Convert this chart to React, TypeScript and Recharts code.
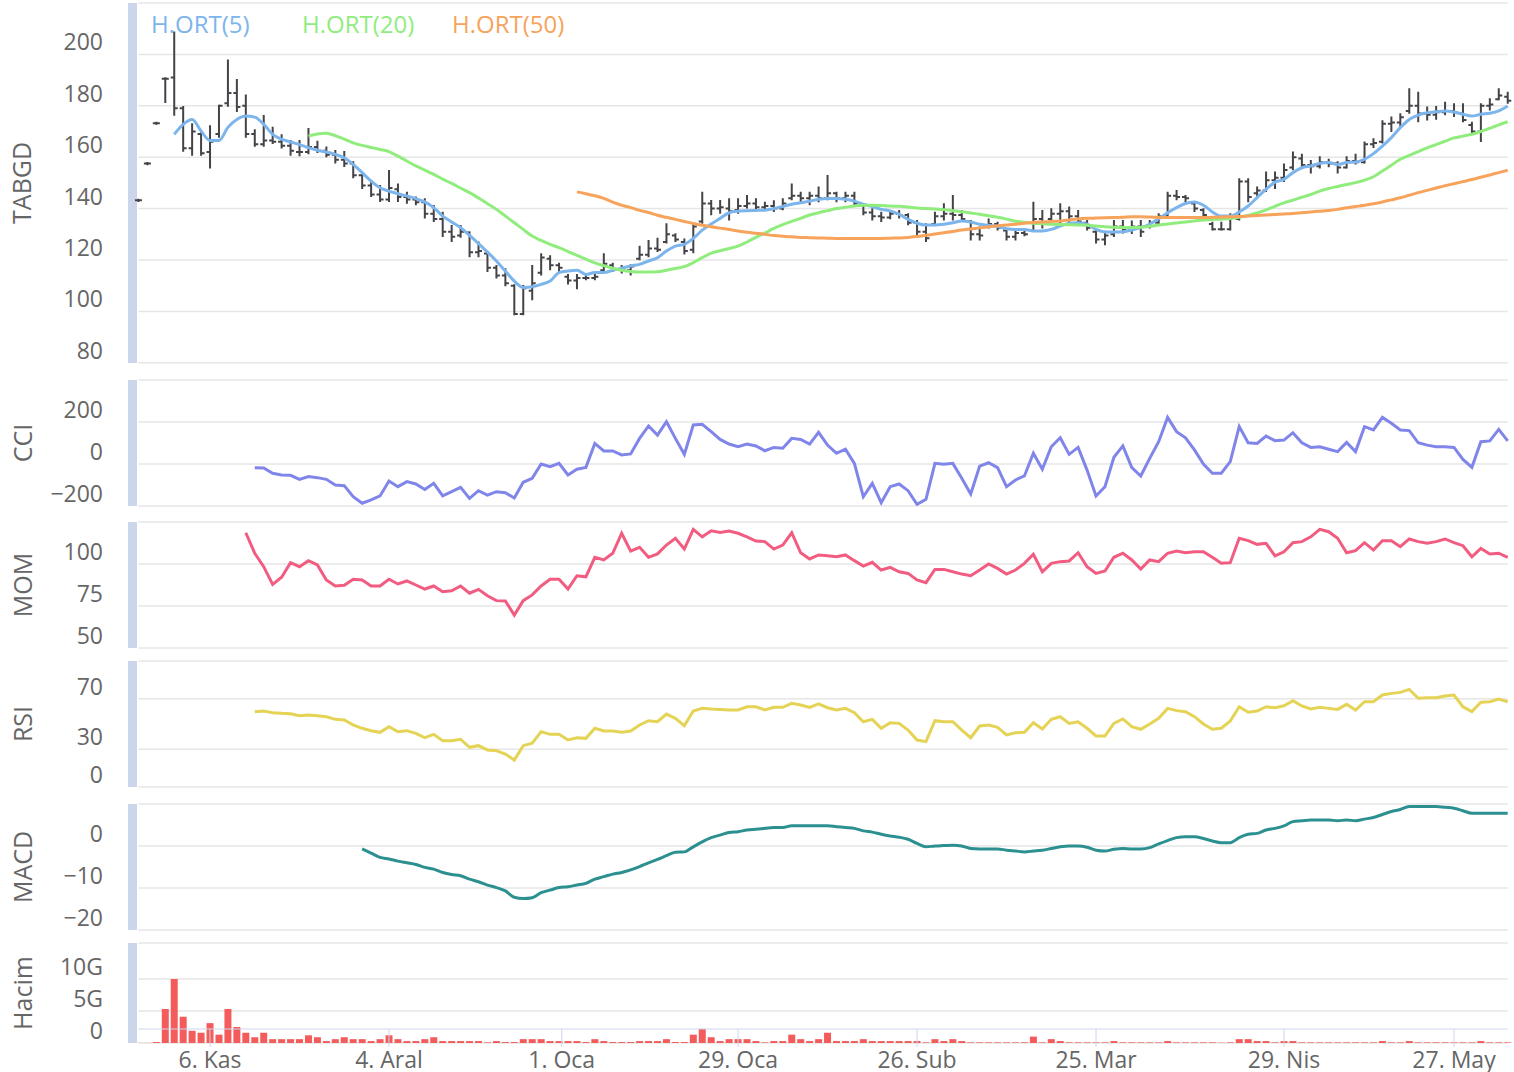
import { ComposedChart, Line, Bar, XAxis, YAxis, CartesianGrid } from 'recharts'

// trading-day index -> values, Oct 25 2023 .. Jun 4 2024
const open = [
  143.2, 157.5, 173.2, 190.5, 191, 179, 163.5, 169, 162, 169,
  181, 185, 180, 169, 165, 166.5, 166, 164.5, 162, 162,
  164, 162.5, 161, 159, 157.5, 153, 149, 145.5, 143.5, 147.5,
  144.5, 143.5, 142.5, 138, 136, 131, 129.5, 130.7, 123, 122.5,
  117, 114, 110, 99, 108, 115, 120.5, 118, 113.5, 112,
  113, 113, 116, 118, 116.5, 116, 120.5, 122, 124.5, 127,
  129.5, 127, 124, 135, 142, 140, 140, 139.5, 141, 142,
  140.5, 141, 140, 144, 145, 144, 145, 144, 146, 144,
  145, 141.5, 138.5, 137, 136.5, 138, 137.5, 134.5, 131, 134,
  137, 138, 137.5, 135, 130, 133, 134, 131.5, 129, 130.5,
  131.5, 136, 136, 138, 139, 137, 134.5, 131, 128, 130,
  133, 132, 133, 133, 134.5, 137.5, 145, 144.5, 142, 139.5,
  134, 132, 132, 136, 150.5, 146, 147, 151, 152, 156,
  159.5, 157, 156.5, 158, 157.5, 156, 158.5, 158, 165, 166,
  173, 173.5, 178, 180, 177, 176.5, 177.5, 178, 177, 172.5,
  170, 180, 182.5, 183.5,
]
const high = [
  143.4, 157.7, 173.4, 190.7, 208.5, 179.5, 172.8, 170, 172, 180,
  197.6, 190, 184, 170.5, 176, 171.5, 168.5, 166.3, 166.3, 171,
  166, 163.8, 162.4, 162, 158, 153.3, 150.7, 148.8, 154.6, 149.4,
  146.2, 144.3, 143.6, 141, 138.4, 133.2, 133.2, 130.7, 126.8, 122.9,
  117.7, 116.4, 110.2, 109.9, 117.7, 122.2, 121.5, 118.5, 114.2, 114.2,
  114.4, 114.4, 122.2, 118.5, 117.7, 118, 125.2, 127.4, 128.3, 133.9,
  130, 128, 133.9, 146.2, 143, 143, 143.6, 143.6, 144.9, 143.6,
  142.3, 142.9, 143.6, 149.4, 146.2, 146.2, 148.2, 152.7, 146.2, 146.2,
  146.2, 141.7, 139.7, 138.4, 139.1, 139.1, 137.8, 135.2, 133.9, 138.4,
  141.7, 144.9, 139.1, 135.2, 132.6, 135.8, 134.5, 131.9, 131.9, 131.3,
  142.3, 139.1, 139.7, 141.7, 140.4, 139.1, 135.2, 131.9, 131, 135.2,
  135.2, 135, 135.2, 135.2, 137.8, 146.2, 146.8, 144.9, 142.3, 139.7,
  134.5, 134.5, 137.8, 151.4, 151.4, 148.2, 154, 154, 157.2, 161.8,
  161, 158.5, 160, 159, 158, 160, 161, 165.7, 167, 174,
  175.4, 176.7, 186.4, 185.1, 179.3, 179.5, 181.2, 180.6, 180.6, 173.4,
  180.6, 182.5, 186.4, 185.1,
]
const low = [
  143.0, 157.3, 173.0, 181.5, 176.5, 162.5, 161, 161, 156, 168,
  180, 178, 168, 164.5, 164.5, 165.5, 163.8, 161, 160.8, 161.5,
  162, 160.4, 157.9, 156.6, 152.2, 148, 144.9, 143, 143, 143,
  142.3, 141.7, 136.5, 135.2, 129.3, 127.4, 129, 121.5, 121.5, 115.7,
  113.2, 110.2, 98.9, 98.9, 104.7, 114.4, 116.4, 115.7, 110.9, 109,
  112.5, 112.5, 115.7, 115.7, 115.1, 114.4, 120.3, 121.5, 123.5, 126.8,
  127.4, 122.5, 123, 134.5, 137.8, 138.4, 135.8, 138.4, 140.4, 139.4,
  139.7, 139.1, 139.7, 143.6, 142.3, 141.7, 142.9, 143.6, 142.9, 142.9,
  141.7, 137.8, 135.8, 135.2, 136.2, 136.5, 133.9, 130, 127.4, 133.9,
  135.8, 135.8, 135.2, 128, 128, 132.6, 131.9, 128, 128, 129.6,
  131.3, 132.6, 135.8, 134.5, 135.2, 134.5, 131.9, 126.8, 126.1, 129.3,
  130.7, 130.5, 129.3, 132.6, 133.9, 137.1, 143.6, 142.9, 139.1, 137.1,
  131.9, 131.9, 131.9, 135.8, 142.9, 144.9, 146.8, 148, 150.7, 155.3,
  156, 154, 156, 156.5, 154, 156, 157.5, 157.9, 164, 165.7,
  170.2, 172.1, 177.3, 174, 174.7, 175, 176.7, 176, 174, 169.5,
  166.3, 178.6, 182.5, 181.2,
]
const close = [
  143.2, 157.5, 173.2, 190.5, 179, 163.5, 170, 161.5, 166, 180,
  185, 179.5, 169, 165, 166.5, 166, 164.5, 162.5, 162, 164,
  162.5, 161, 159, 157.5, 153, 149, 145.5, 143.5, 148, 144.5,
  143.5, 142.5, 138, 136, 131, 129, 131, 123, 123.5, 117,
  114, 111, 99, 109, 111, 121, 118, 117, 112, 113,
  113, 113.5, 118.5, 116.5, 116, 117.5, 122, 124.5, 124, 130,
  128, 123.5, 133, 142, 140, 140.5, 139, 141, 142, 140.5,
  141, 140, 142, 145, 144, 145, 144, 146, 144, 145,
  142, 138.5, 137, 136.5, 138, 137.5, 134.5, 131, 128.5, 137,
  138, 137.5, 136, 130, 129.5, 134, 132.5, 129, 130.5, 130,
  136, 134, 138, 139, 137, 135, 132.5, 128, 129.5, 133,
  132, 133, 131, 134.5, 137, 145, 144.5, 144, 140, 137.5,
  132, 132, 137, 150.5, 144.5, 147, 151, 152, 155, 160,
  157, 156.5, 158, 157.5, 156, 158.5, 158, 165, 165.5, 173,
  173.5, 175.5, 180, 177, 176.5, 177.5, 178, 177.5, 174.5, 170,
  180, 180.5, 184, 182,
]
const ma5 = [
  null, null, null, null, 168.9, 172.8, 174.7, 170.2, 166.5, 166.5,
  171.6, 174.7, 176, 175.6, 172.8, 168.9, 167, 165.9, 164.9, 163.7,
  162.7, 162, 161.1, 159.8, 157.2, 154, 150.7, 148.1, 146.8, 145.8,
  144.9, 143.9, 142.6, 140.4, 137.1, 134.8, 132.6, 129.6, 126.4, 123.1,
  119.6, 115.7, 111.8, 109.3, 109.6, 110.5, 111.8, 115.1, 115.7, 116,
  114.4, 115.1, 115.1, 116, 116.8, 117.7, 118.3, 119.6, 120.9, 123.5,
  125.4, 126.1, 128.4, 131.6, 134, 136.2, 138.4, 139, 139.2, 139.3,
  139.4, 140, 140.8, 141.7, 142.3, 142.9, 143.6, 143.9, 143.9, 143.6,
  142.9, 141.7, 140.8, 139.7, 139.1, 137.8, 135.8, 134.3, 133.6, 133.6,
  133.9, 134.5, 135.2, 134.8, 133.9, 133.5, 133, 132.2, 131.9, 131.9,
  131.3, 131.3, 131.9, 133.2, 134.3, 134.5, 133.9, 131.9, 130.9, 130.9,
  131, 131.7, 132.6, 133.9, 136.1, 138.4, 140.4, 142, 142.6, 141.3,
  138.7, 137.1, 137.1, 138.7, 141, 144.3, 147.5, 150.3, 151.4, 154,
  155.9, 156.6, 157.6, 157.9, 157.2, 157.9, 158.1, 159.2, 161.4, 164.3,
  167.6, 171.5, 174.7, 176.4, 177.3, 177.7, 178, 177.6, 176.7, 176,
  176.7, 177.1, 178, 179.9,
]
const ma20 = [
  null, null, null, null, null, null, null, null, null, null,
  null, null, null, null, null, null, null, null, null, 168.2,
  169.0, 169.3, 168.4, 167.0, 165.6, 164.6, 163.8, 163.0, 162.2, 160.4,
  158.5, 156.6, 155.0, 153.3, 151.5, 149.8, 148.0, 146.2, 144.1, 141.9,
  139.7, 137.1, 134.5, 131.9, 129.3, 127.6, 126.1, 124.8, 123.3, 121.8,
  120.3, 118.9, 117.8, 116.8, 116.0, 115.5, 115.3, 115.3, 115.4, 116.0,
  116.7, 117.4, 119.0, 120.9, 122.7, 123.6, 124.5, 125.4, 127.0, 128.8,
  130.5, 132.3, 133.8, 135.0, 136.2, 137.5, 138.4, 139.2, 140.0, 140.5,
  141.0, 141.3, 141.3, 141.2, 141.0, 140.9, 140.6, 140.2, 140.0, 139.8,
  139.6, 139.2, 138.8, 138.3, 137.8, 137.2, 136.6, 135.9, 135.1, 134.7,
  134.3, 134.1, 133.9, 133.8, 133.7, 133.6, 133.5, 133.2, 132.9, 132.7,
  132.6, 132.6, 132.7, 133.1, 133.6, 134.0, 134.4, 134.8, 135.2, 135.6,
  135.8, 135.9, 136.1, 136.6, 137.4, 138.3, 139.5, 140.9, 142.2, 143.3,
  144.4, 145.5, 146.8, 147.8, 148.6, 149.4, 150.1, 151.1, 152.4, 154.6,
  156.9, 159.2, 160.7, 162.2, 163.6, 164.9, 166.2, 167.5, 168.2, 168.9,
  170.0, 171.3, 172.6, 173.8,
]
const ma50 = [
  null, null, null, null, null, null, null, null, null, null,
  null, null, null, null, null, null, null, null, null, null,
  null, null, null, null, null, null, null, null, null, null,
  null, null, null, null, null, null, null, null, null, null,
  null, null, null, null, null, null, null, null, null, 146.5,
  145.8, 145.0, 144.0, 142.5, 141.3, 140.4, 139.3, 138.5, 137.4, 136.6,
  135.8, 135.0, 134.2, 133.5, 132.9, 132.4, 131.9, 131.3, 130.8, 130.4,
  130.0, 129.5, 129.2, 129.0, 128.8, 128.7, 128.6, 128.5, 128.4, 128.4,
  128.4, 128.4, 128.4, 128.4, 128.5, 128.6, 128.8, 129.1, 129.6, 130.1,
  130.6, 131.1, 131.7, 132.1, 132.5, 132.9, 133.3, 133.6, 133.9, 134.3,
  134.6, 134.8, 135.0, 135.2, 135.6, 136.0, 136.2, 136.3, 136.4, 136.5,
  136.6, 136.8, 136.8, 136.7, 136.6, 136.5, 136.5, 136.5, 136.5, 136.5,
  136.6, 136.7, 136.8, 136.9, 137.1, 137.3, 137.5, 137.7, 137.9, 138.1,
  138.4, 138.7, 139.0, 139.3, 139.7, 140.3, 140.8, 141.3, 141.9, 142.6,
  143.4, 144.2, 145.2, 146.2, 147.1, 148.0, 148.9, 149.7, 150.5, 151.3,
  152.2, 153.1, 154.0, 154.9,
]
const cci = [
  null, null, null, null, null, null, null, null, null, null,
  null, null, null, -18, -19, -44, -52, -54, -73, -60,
  -65, -73, -100, -103, -156, -187, -171, -152, -81, -108,
  -84, -95, -121, -92, -152, -132, -111, -164, -127, -148,
  -132, -137, -162, -87, -68, 0, -13, 3, -52, -25,
  -16, 98, 62, 62, 43, 48, 122, 181, 138, 202,
  122, 46, 186, 189, 154, 117, 95, 82, 95, 86,
  63, 79, 75, 122, 117, 95, 151, 90, 51, 71,
  3, -156, -92, -184, -108, -95, -127, -192, -168, 3,
  -1, 3, -68, -143, -10, 6, -17, -108, -76, -57,
  51, -25, 82, 125, 46, 79, -29, -152, -108, 32,
  86, -17, -57, 27, 106, 222, 154, 125, 67, 0,
  -44, -44, 11, 178, 101, 98, 133, 111, 114, 149,
  101, 79, 82, 70, 59, 103, 59, 178, 162, 222,
  194, 162, 159, 101, 90, 82, 82, 79, 22, -16,
  106, 110, 165, 110,
]
const mom = [
  null, null, null, null, null, null, null, null, null, null,
  null, null, 118.6, 106.4, 98.4, 87.9, 92.1, 100.8, 98.4, 102,
  99.4, 90.5, 86.9, 87.3, 90.9, 90.5, 86.9, 86.9, 90.9, 88.1,
  89.9, 87.5, 85.1, 86.9, 83.5, 84.1, 86.9, 82.6, 84.9, 81.1,
  78.2, 78, 69.6, 78.2, 81.6, 86.9, 90.9, 90.9, 85.1, 93,
  92.4, 104, 102.4, 106.4, 118.3, 107.7, 109.9, 104, 106, 111.3,
  115.3, 108.9, 120.6, 116.2, 119.8, 118.8, 119.6, 118.3, 116.2, 113.7,
  113.3, 108.9, 111.3, 118.6, 106.7, 103, 105.4, 104.9, 104.3, 105.4,
  102, 98.8, 101, 96.4, 98, 95.4, 94.4, 90.5, 88.9, 96.8,
  96.8, 95.4, 94, 93, 96.4, 100, 97.4, 94, 96.4, 100.4,
  105.8, 95.4, 100.4, 101.4, 101.8, 106.7, 98.4, 94.4, 95.8, 104,
  106.4, 102.4, 97, 102.4, 101.4, 106.4, 107.7, 106.7, 107.3, 107.3,
  104, 100.4, 100.8, 115.3, 113.9, 111.7, 112.3, 104.8, 107.3, 112.7,
  113.3, 116.2, 120.6, 119.2, 115.3, 106.7, 107.9, 112.7, 108.3, 113.9,
  113.9, 110.3, 114.9, 113.3, 112.3, 113.3, 114.9, 112.7, 110.9, 104.3,
  109.3, 106, 106.4, 104,
]
const rsi = [
  null, null, null, null, null, null, null, null, null, null,
  null, null, null, 59.8, 60.3, 59, 58.5, 58.2, 56.6, 57.1,
  56.6, 55.8, 53.7, 53.2, 49.2, 46.6, 44.7, 43.4, 47.9, 43.9,
  44.7, 42.6, 39.1, 41.8, 36.7, 36.7, 37.9, 31.5, 32.8, 29.4,
  28.8, 26.2, 21.4, 32.8, 34.7, 43.9, 41.8, 41.8, 37.3, 39.1,
  38.6, 46.6, 44.4, 44.4, 43.4, 44.4, 49.2, 52.6, 51.8, 57.9,
  54.5, 48.7, 60.3, 62.4, 61.9, 61.6, 61.1, 61.1, 63.7, 63.7,
  61.1, 63.2, 63.2, 66.4, 65.1, 63.2, 65.9, 62.9, 61.1, 62.4,
  59, 51.8, 53.7, 46.6, 51, 50.5, 45.2, 37.3, 36, 52.6,
  51.8, 51.8, 45.2, 39.1, 48.4, 49.2, 47.4, 41.3, 43.1, 43.4,
  51, 46, 53.7, 55.8, 50.5, 51.8, 46.6, 40.5, 40.5, 50.5,
  54, 47.9, 45.8, 50, 54.5, 62.4, 60.6, 59.8, 55.8, 50,
  45.8, 46.6, 52.4, 63.7, 59.3, 60.3, 63.7, 62.9, 64.5, 68.5,
  64.3, 61.9, 63.2, 62.4, 61.6, 65.6, 61.1, 67.7, 67.7, 73,
  74.3, 75.1, 77.5, 70.4, 70.9, 70.9, 72.2, 73, 63.7, 59.8,
  67.2, 67.7, 69.8, 67.7,
]
const macd = [
  null, null, null, null, null, null, null, null, null, null,
  null, null, null, null, null, null, null, null, null, null,
  null, null, null, null, null, -0.7, -1.7, -2.7, -3.1, -3.6,
  -4, -4.4, -5.1, -5.5, -6.3, -6.8, -7.1, -7.9, -8.5, -9.3,
  -9.9, -10.7, -12.2, -12.5, -12.3, -11.1, -10.5, -9.9, -9.7, -9.3,
  -8.9, -7.9, -7.3, -6.7, -6.3, -5.7, -4.9, -4, -3.2, -2.3,
  -1.5, -1.4, -0.2, 1, 2, 2.6, 3.2, 3.4, 3.8, 4,
  4.2, 4.4, 4.4, 4.8, 4.8, 4.8, 4.8, 4.8, 4.6, 4.4,
  4.2, 3.6, 3.3, 2.8, 2.4, 2.1, 1.6, 0.6, -0.2, 0,
  0.1, 0.2, 0, -0.6, -0.7, -0.7, -0.7, -1, -1.2, -1.4,
  -1.2, -1, -0.6, -0.2, 0, 0, -0.3, -1, -1.2, -0.8,
  -0.6, -0.7, -0.7, -0.4, 0.5, 1.3, 2, 2.2, 2.2, 1.8,
  1.2, 0.8, 0.8, 2, 2.8, 3, 3.8, 4.2, 4.8, 5.8,
  6, 6.2, 6.2, 6.2, 6, 6.2, 6, 6.4, 6.8, 7.5,
  8.2, 8.7, 9.4, 9.4, 9.4, 9.4, 9.2, 9, 8.4, 7.8,
  7.8, 7.8, 7.8, 7.8,
]
// volume in G (billions)
const volume = [
  0.02, 0.02, 0.15, 5.3, 10, 4.1, 1.9, 1.6, 3.1, 1.3,
  5.3, 2.5, 1.6, 0.9, 1.6, 0.6, 0.6, 0.6, 0.6, 1.2,
  0.9, 0.3, 0.6, 0.9, 0.6, 0.6, 0.3, 0.6, 1.2, 0.6,
  0.3, 0.3, 0.6, 0.9, 0.3, 0.3, 0.3, 0.3, 0.3, 0.1,
  0.3, 0.15, 0.15, 0.6, 0.6, 0.6, 0.3, 0.3, 0.3, 0.3,
  0.15, 0.6, 0.3, 0.15, 0.15, 0.15, 0.3, 0.3, 0.3, 0.6,
  0.15, 0.15, 1.3, 2.2, 0.9, 0.3, 0.6, 0.6, 0.6, 0.3,
  0.1, 0.3, 0.3, 1.3, 0.6, 0.3, 0.6, 1.6, 0.3, 0.3,
  0.3, 0.6, 0.3, 0.3, 0.3, 0.3, 0.3, 0.3, 0.1, 0.6,
  0.3, 0.6, 0.3, 0.1, 0.1, 0.1, 0.1, 0.1, 0.1, 0.1,
  1.0, 0.1, 0.6, 0.3, 0.1, 0.1, 0.1, 0.1, 0.1, 0.3,
  0.1, 0.1, 0.1, 0.1, 0.1, 0.3, 0.1, 0.1, 0.1, 0.1,
  0.1, 0.05, 0.1, 0.6, 0.6, 0.3, 0.3, 0.1, 0.3, 0.3,
  0.1, 0.1, 0.1, 0.1, 0.1, 0.1, 0.1, 0.1, 0.1, 0.3,
  0.1, 0.1, 0.3, 0.1, 0.1, 0.1, 0.1, 0.1, 0.1, 0.1,
  0.3, 0.1, 0.1, 0.1,
]
const xTickIdx = [8, 28, 47.3, 67, 87, 107, 128, 147]
const xTickLabels = ['6. Kas', '4. Aral', '1. Oca', '29. Oca', '26. Sub', '25. Mar', '29. Nis', '27. May']

const W = 1514
const LAST = close.length - 1
const PLOT_LEFT = 138.4
const RIGHT = 6.3
const FONT = "'Open Sans', sans-serif"
const BAND = '#ccd6eb'

const rows = close.map((c, i) => ({
  i,
  range: [low[i], high[i]],
  open: open[i],
  high: high[i],
  low: low[i],
  close: c,
  ma5: ma5[i],
  ma20: ma20[i],
  ma50: ma50[i],
  cci: cci[i],
  mom: mom[i],
  rsi: rsi[i],
  macd: macd[i],
  vol: volume[i],
}))

const num = (v: number) => (v < 0 ? '\u2212' + Math.abs(v) : String(v))

function OhlcBar(props: any) {
  const { x, y, width, height, payload } = props
  if (x == null || y == null || !payload) return null
  const cx = x + width / 2
  const span = payload.high - payload.low
  const py = (v: number) => (span > 0 ? y + ((payload.high - v) / span) * height : y)
  return (
    <g stroke="#434348" strokeWidth={2} fill="none">
      <line x1={cx} x2={cx} y1={y - 1} y2={y + height + 1} />
      <line x1={x} x2={cx} y1={py(payload.open)} y2={py(payload.open)} />
      <line x1={cx} x2={x + width} y1={py(payload.close)} y2={py(payload.close)} />
    </g>
  )
}

function YTick(props: any) {
  const { y, payload, fmt } = props
  const s = fmt(payload.value)
  if (!s) return null
  return (
    <text x={103} y={y - 4} textAnchor="end" fill="#666" fontSize={23} fontFamily={FONT}>
      {s}
    </text>
  )
}

function AxisTitle(props: any) {
  const { text, cy } = props
  return (
    <text x={31.5} y={cy} transform={`rotate(-90 31.5 ${cy})`} textAnchor="middle" fill="#666" fontSize={25} fontFamily={FONT}>
      {text}
    </text>
  )
}

function XTick(props: any) {
  const { x, y, payload } = props
  const k = xTickIdx.indexOf(payload.value)
  return (
    <text x={x} y={y + 19} textAnchor="middle" fill="#666" fontSize={23} fontFamily={FONT}>
      {xTickLabels[k]}
    </text>
  )
}

function Panel({ top, bottom, domain, ticks, fmt, title, children }: any) {
  const M = 20
  const h = bottom - top
  return (
    <>
      <div style={{ position: 'absolute', left: 128, top, width: 9, height: h, background: BAND }} />
      <div style={{ position: 'absolute', left: 0, top: top - M }}>
        <ComposedChart width={W} height={h + 2 * M} data={rows} margin={{ top: M, right: RIGHT, bottom: M, left: 0 }}>
          <CartesianGrid vertical={false} stroke="#e6e6e6" strokeWidth={1.5} />
          <XAxis type="number" dataKey="i" domain={[0, LAST]} hide />
          <YAxis
            width={PLOT_LEFT}
            domain={domain}
            ticks={ticks}
            allowDataOverflow
            axisLine={false}
            tickLine={false}
            tick={<YTick fmt={fmt} />}
            label={<AxisTitle text={title} cy={M + h / 2} />}
          />
          {children}
        </ComposedChart>
      </div>
    </>
  )
}

const legendItems = [
  { name: 'H.ORT(5)', color: '#7cb5ec', left: 151 },
  { name: 'H.ORT(20)', color: '#90ed7d', left: 302 },
  { name: 'H.ORT(50)', color: '#f7a35c', left: 452 },
]

export default function App() {
  return (
    <div style={{ position: 'absolute', left: 0, top: 0, width: W, height: 1072, background: '#fff', fontFamily: FONT }}>
      <Panel top={3.2} bottom={363} domain={[80, 220]} ticks={[80, 100, 120, 140, 160, 180, 200, 220]}
        fmt={(v: number) => (v === 220 ? '' : num(v))} title="TABGD">
        <Bar dataKey="range" barSize={7} shape={<OhlcBar />} isAnimationActive={false} />
        <Line type="monotone" dataKey="ma5" stroke="#7cb5ec" strokeWidth={3} dot={false} isAnimationActive={false} />
        <Line type="monotone" dataKey="ma20" stroke="#90ed7d" strokeWidth={3} dot={false} isAnimationActive={false} />
        <Line type="monotone" dataKey="ma50" stroke="#f7a35c" strokeWidth={3} dot={false} isAnimationActive={false} />
      </Panel>
      {legendItems.map((it) => (
        <span key={it.name} style={{ position: 'absolute', left: it.left, top: 7, fontSize: 24, color: it.color, whiteSpace: 'nowrap' }}>
          {it.name}
        </span>
      ))}
      <Panel top={380} bottom={506} domain={[-200, 400]} ticks={[-200, 0, 200, 400]}
        fmt={(v: number) => (v === 400 ? '' : num(v))} title="CCI">
        <Line dataKey="cci" stroke="#8085e9" strokeWidth={3} dot={false} isAnimationActive={false} />
      </Panel>
      <Panel top={522} bottom={648} domain={[50, 125]} ticks={[50, 75, 100, 125]}
        fmt={(v: number) => (v === 125 ? '' : num(v))} title="MOM">
        <Line dataKey="mom" stroke="#f15c80" strokeWidth={3} dot={false} isAnimationActive={false} />
      </Panel>
      <Panel top={661} bottom={787} domain={[0, 100]} ticks={[0, 30, 70, 100]}
        fmt={(v: number) => (v === 100 ? '' : num(v))} title="RSI">
        <Line dataKey="rsi" stroke="#e4d354" strokeWidth={3} dot={false} isAnimationActive={false} />
      </Panel>
      <Panel top={804} bottom={930} domain={[-20, 10]} ticks={[-20, -10, 0, 10]}
        fmt={(v: number) => (v === 10 ? '' : num(v))} title="MACD">
        <Line type="monotone" dataKey="macd" stroke="#2b908f" strokeWidth={3} dot={false} isAnimationActive={false} />
      </Panel>
      <Panel top={943} bottom={1043} domain={[0, 15.6]} ticks={[0, 5, 10, 15.6]}
        fmt={(v: number) => (v === 15.6 ? '' : v === 0 ? '0' : v + 'G')} title="Hacim">
        <Bar dataKey="vol" fill="#f45b5b" barSize={7} isAnimationActive={false} />
      </Panel>
      <div style={{ position: 'absolute', left: 0, top: 1009 }}>
        <ComposedChart width={W} height={80} data={rows} margin={{ top: 10, right: RIGHT, bottom: 0, left: PLOT_LEFT }}>
          <XAxis
            type="number"
            dataKey="i"
            domain={[0, LAST]}
            ticks={xTickIdx}
            interval={0}
            height={60}
            tickSize={18}
            tickMargin={2}
            axisLine={{ stroke: BAND }}
            tickLine={{ stroke: BAND }}
            tick={<XTick />}
          />
          <YAxis hide domain={[0, 1]} allowDataOverflow />
          <Line dataKey="close" stroke="none" dot={false} isAnimationActive={false} />
        </ComposedChart>
      </div>
    </div>
  )
}
